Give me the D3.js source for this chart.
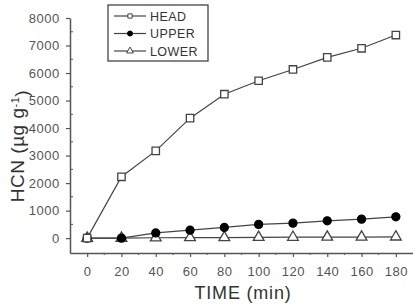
<!DOCTYPE html>
<html>
<head>
<meta charset="utf-8">
<script src="https://cdn.jsdelivr.net/npm/d3@7"></script>
<style>
  body { margin: 0; background: #fff; }
  text { font-family: "Liberation Sans", Arial, sans-serif; }
</style>
</head>
<body>
<div id="chart"></div>
<script>
// data
var times = [0, 20, 40, 60, 80, 100, 120, 140, 160, 180];
var head  = [0, 2230, 3170, 4360, 5230, 5720, 6130, 6570, 6900, 7380];
var upper = [0, 0, 190, 290, 390, 500, 545, 630, 690, 775];
var lower = [0, 0, 15, 20, 20, 30, 35, 40, 40, 45];
var xTicks = [0, 20, 40, 60, 80, 100, 120, 140, 160, 180];
var yTicks = [0, 1000, 2000, 3000, 4000, 5000, 6000, 7000, 8000];
var seriesNames = ["HEAD", "UPPER", "LOWER"];

var width = 413, height = 306;
var margin = {top: 18, right: 0, bottom: 53, left: 70};

var svg = d3.select("#chart")
  .append("svg")
    .attr("width", width)
    .attr("height", height);

var x = d3.scaleLinear()
  .domain([-10, 190])
  .range([margin.left, width - margin.right]);

var y = d3.scaleLinear()
  .domain([-540, 8000])
  .range([height - margin.bottom, margin.top]);

var axisColor = "#555";

// X axis
var gx = svg.append("g")
  .attr("transform", "translate(0," + (height - margin.bottom) + ")")
  .call(d3.axisBottom(x).tickValues(xTicks).tickSize(4).tickSizeOuter(0));
// minor x ticks
svg.append("g")
  .selectAll("line")
  .data(d3.range(10, 190, 20))
  .enter()
  .append("line")
    .attr("x1", function(d) { return x(d); })
    .attr("x2", function(d) { return x(d); })
    .attr("y1", height - margin.bottom)
    .attr("y2", height - margin.bottom + 2)
    .attr("stroke", axisColor);

// Y axis
var gy = svg.append("g")
  .attr("transform", "translate(" + margin.left + ",0)")
  .call(d3.axisLeft(y).tickValues(yTicks).tickSize(4).tickSizeOuter(0).tickFormat(d3.format("d")));
svg.append("g")
  .selectAll("line")
  .data(d3.range(500, 8000, 1000))
  .enter()
  .append("line")
    .attr("x1", margin.left)
    .attr("x2", margin.left + 3)
    .attr("y1", function(d) { return y(d); })
    .attr("y2", function(d) { return y(d); })
    .attr("stroke", axisColor);

[gx, gy].forEach(function(g) {
  g.select(".domain").attr("stroke", axisColor).attr("stroke-width", 1.5);
  g.selectAll(".tick line").attr("stroke", axisColor).attr("stroke-width", 1.2);
  g.selectAll(".tick text")
    .attr("fill", "#555")
    .style("font-size", "13px")
    .style("letter-spacing", "0.5px")
    .style("font-family", "'Liberation Sans', Arial, sans-serif");
});
gx.selectAll(".tick text").attr("dy", "1.2em");
gy.selectAll(".tick text").attr("dx", "-0.25em");

// axis titles
svg.append("text")
  .attr("x", 243)
  .attr("y", 299)
  .attr("text-anchor", "middle")
  .attr("fill", "#333")
  .style("font-size", "18px")
  .style("letter-spacing", "0.8px")
  .text("TIME (min)");

var yl = svg.append("text")
  .attr("transform", "translate(24,146) rotate(-90)")
  .attr("text-anchor", "middle")
  .attr("fill", "#333")
  .style("font-size", "19px")
  .style("letter-spacing", "0.5px");
yl.append("tspan").text("HCN (\u00b5g g");
yl.append("tspan").attr("dy", "-0.5em").style("font-size", "11px").text("-1");
yl.append("tspan").attr("dy", "0.5em").text(")");

// lines
var line = d3.line()
  .x(function(d, i) { return x(times[i]); })
  .y(function(d) { return y(d); });

var lineColor = "#444";
[head, upper, lower].forEach(function(s) {
  svg.append("path")
    .datum(s)
    .attr("fill", "none")
    .attr("stroke", lineColor)
    .attr("stroke-width", 1.2)
    .attr("d", line);
});

var sym = {
  HEAD: d3.symbol().type(d3.symbolSquare).size(55),
  UPPER: d3.symbol().type(d3.symbolCircle).size(50),
  LOWER: d3.symbol().type(d3.symbolTriangle).size(50)
};
var fills = {HEAD: "#fff", UPPER: "#000", LOWER: "#fff"};

function drawMarks(data, name) {
  svg.append("g")
    .selectAll("path")
    .data(data)
    .enter()
    .append("path")
      .attr("d", sym[name])
      .attr("transform", function(d, i) { return "translate(" + x(times[i]) + "," + y(d) + ")"; })
      .attr("fill", fills[name])
      .attr("stroke", name == "UPPER" ? "#000" : "#444")
      .attr("stroke-width", 1.3);
}
drawMarks(lower, "LOWER");
drawMarks(upper, "UPPER");
drawMarks(head, "HEAD");

// legend
var legend = svg.append("g").attr("transform", "translate(108,5)");
legend.append("rect")
  .attr("width", 100)
  .attr("height", 56)
  .attr("fill", "#fff")
  .attr("stroke", "#444")
  .attr("stroke-width", 1.3);

seriesNames.forEach(function(name, i) {
  var ly = 11 + i * 17.5;
  legend.append("line")
    .attr("x1", 6).attr("x2", 38)
    .attr("y1", ly).attr("y2", ly)
    .attr("stroke", lineColor).attr("stroke-width", 1.2);
  legend.append("path")
    .attr("d", d3.symbol().type([d3.symbolSquare, d3.symbolCircle, d3.symbolTriangle][i]).size([18, 20, 20][i]))
    .attr("transform", "translate(22," + ly + ")")
    .attr("fill", fills[name])
    .attr("stroke", name == "UPPER" ? "#000" : "#444")
    .attr("stroke-width", 1);
  legend.append("text")
    .attr("x", 42)
    .attr("y", ly + 4.5)
    .attr("fill", "#333")
    .style("font-size", "12.5px")
    .style("letter-spacing", "0.4px")
    .text(name);
});
</script>
</body>
</html>
